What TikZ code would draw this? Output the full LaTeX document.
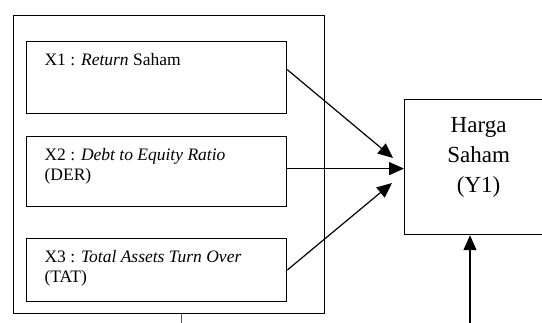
\documentclass[tikz,border=0pt]{standalone}
\usepackage{fontspec}
\setmainfont{Liberation Serif}
\usetikzlibrary{arrows.meta}
\usetikzlibrary{positioning}

\begin{document}
\begin{tikzpicture}
          [x=1pt, y=-1pt, line width=1.2pt,
           every node/.style={draw, inner sep=0pt, anchor=north west},
           var/.style={inner xsep=18pt, inner ysep=12pt, font=\fontsize{17.5}{20}\selectfont},
           arr/.style={-{Triangle[length=15pt,width=13pt]}}]
          \clip (0,0) rectangle (542,323);

          % independent variables
          \node (grp) [minimum width=311pt, minimum height=298pt] at (13,15) {};
          \node (x1) [var] at (26,41) {\parbox[t][48pt][t]{224pt}{X1 : \textit{Return} Saham}};
          \node (x2) [var] at (26,136) {\parbox[t][46pt][t]{224pt}{X2 : \textit{Debt to Equity Ratio}\\(DER)}};
          \node (x3) [var] at (26,238) {\parbox[t][39pt][t]{224pt}{X3 : \textit{Total Assets Turn Over}\\(TAT)}};

          % dependent variable
          \node (y1) [font=\fontsize{23}{30}\selectfont, inner ysep=18pt] at (404,99)
            {\parbox[t][99pt][t]{148pt}{\centering Harga\\Saham\\(Y1)}};

          \coordinate (e1) at (393,158);
          \coordinate (e3) at (392,183);
          \coordinate (src) at (470,330);
          \coordinate (tick) at (181,330);

          \draw[arr] ([yshift=8pt]x1.east) -- (e1);
          \draw[arr] ([yshift=3pt]x2.east) -- ([yshift=3pt]x2.east -| y1.west);
          \draw[arr] (x3.east) -- (e3);
          \draw[arr] (src) -- (src |- y1.south);
          \draw[draw=blue!45!gray, line width=0.8pt] (tick) -- (tick |- grp.south);

        \end{tikzpicture}
\end{document}
